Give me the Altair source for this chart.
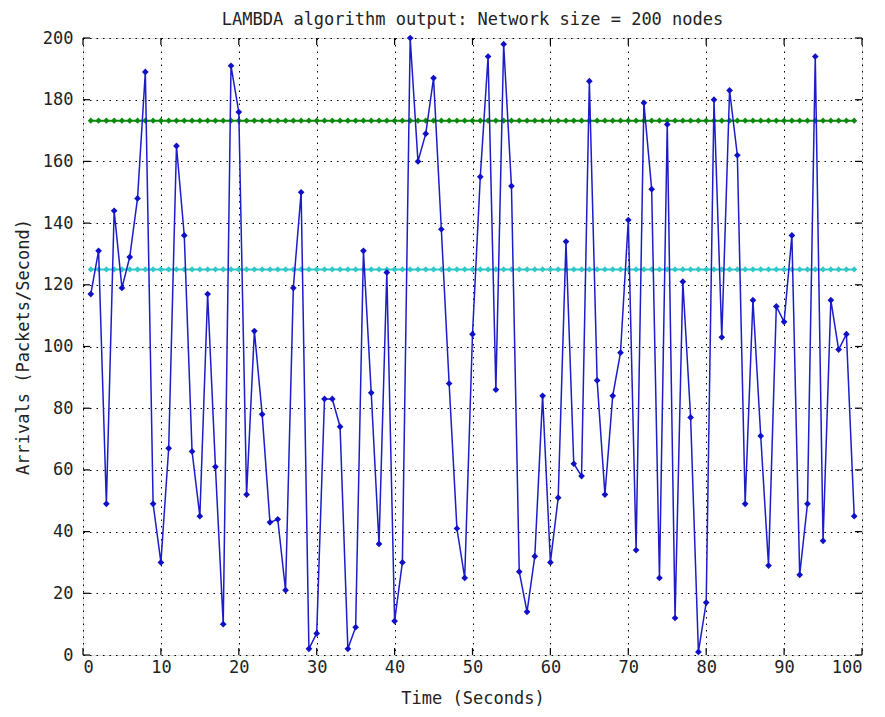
import altair as alt
import pandas as pd

times = list(range(1, 100))
arrivals = [117, 131, 49, 144, 119, 129, 148, 189, 49, 30,
            67, 165, 136, 66, 45, 117, 61, 10, 191, 176,
            52, 105, 78, 43, 44, 21, 119, 150, 2, 7,
            83, 83, 74, 2, 9, 131, 85, 36, 124, 11,
            30, 200, 160, 169, 187, 138, 88, 41, 25, 104,
            155, 194, 86, 198, 152, 27, 14, 32, 84, 30,
            51, 134, 62, 58, 186, 89, 52, 84, 98, 141,
            34, 179, 151, 25, 172, 12, 121, 77, 1, 17,
            180, 103, 183, 162, 49, 115, 71, 29, 113, 108,
            136, 26, 49, 194, 37, 115, 99, 104, 45]
upper_level = 173.2
lower_level = 125.0
x_ticks = [0, 10, 20, 30, 40, 50, 60, 70, 80, 90, 100]
y_ticks = [0, 20, 40, 60, 80, 100, 120, 140, 160, 180, 200]

W, H = 779, 617
FONT = "DejaVu Sans Mono"
FS = 17

df = pd.DataFrame({"t": times, "v": arrivals})
df_up = pd.DataFrame({"t": times, "v": [upper_level] * len(times)})
df_lo = pd.DataFrame({"t": times, "v": [lower_level] * len(times)})
df_xt = pd.DataFrame({"t": x_ticks})
df_yt = pd.DataFrame({"v": y_ticks})

xs = alt.Scale(domain=[0, 100], nice=False, zero=False)
ys = alt.Scale(domain=[0, 200], nice=False, zero=False)

xaxis = alt.Axis(values=x_ticks, title="Time (Seconds)", grid=True, gridColor="black",
                 gridDash=[1.5, 5], gridOpacity=1, gridWidth=1, ticks=False, domain=False,
                 labelFont=FONT, labelFontSize=FS, labelColor="#222", labelPadding=4,
                 titleFont=FONT, titleFontSize=FS, titleFontWeight="normal",
                 titleColor="#222", titlePadding=15)
yaxis = alt.Axis(values=y_ticks, title="Arrivals (Packets/Second)", grid=True, gridColor="black",
                 gridDash=[1.5, 5], gridOpacity=1, gridWidth=1, ticks=False, domain=False,
                 labelFont=FONT, labelFontSize=FS, labelColor="#222", labelPadding=10,
                 titleFont=FONT, titleFontSize=FS, titleFontWeight="normal",
                 titleColor="#222", titlePadding=10)

def level(d, color):
    return alt.Chart(d).mark_line(
        color=color, strokeWidth=2,
        point=alt.OverlayMarkDef(shape="diamond", filled=True, size=38, color=color)
    ).encode(x=alt.X("t:Q", scale=xs, axis=xaxis), y=alt.Y("v:Q", scale=ys, axis=yaxis))

green = level(df_up, "#0a8a0a")
cyan = level(df_lo, "#30c8c8")

blue = alt.Chart(df).mark_line(
    color="#1c1cc8", strokeWidth=1.5,
    point=alt.OverlayMarkDef(shape="diamond", filled=True, size=45, color="#1010c8")
).encode(x=alt.X("t:Q", scale=xs), y=alt.Y("v:Q", scale=ys))

tb = alt.Chart(df_xt).mark_rule(color="black", strokeWidth=1.2).encode(
    x=alt.X("t:Q", scale=xs), y=alt.value(H), y2=alt.value(H - 7))
tt = alt.Chart(df_xt).mark_rule(color="black", strokeWidth=1.2).encode(
    x=alt.X("t:Q", scale=xs), y=alt.value(0), y2=alt.value(7))
tl = alt.Chart(df_yt).mark_rule(color="black", strokeWidth=1.2).encode(
    y=alt.Y("v:Q", scale=ys), x=alt.value(0), x2=alt.value(7))
tr = alt.Chart(df_yt).mark_rule(color="black", strokeWidth=1.2).encode(
    y=alt.Y("v:Q", scale=ys), x=alt.value(W), x2=alt.value(W - 7))

chart = alt.layer(green, cyan, blue, tb, tt, tl, tr).properties(
    width=W, height=H,
    title=alt.TitleParams("LAMBDA algorithm output: Network size = 200 nodes",
                          font=FONT, fontSize=FS, fontWeight="normal", color="#222",
                          anchor="middle", offset=0),
    autosize=alt.AutoSizeParams(type="none"),
    padding={"left": 75, "top": 30, "right": 15, "bottom": 62},
).configure_view(stroke="black", strokeWidth=1.5).configure(background="white")

chart.save("out.html", embed_options={"renderer": "svg", "actions": False})
